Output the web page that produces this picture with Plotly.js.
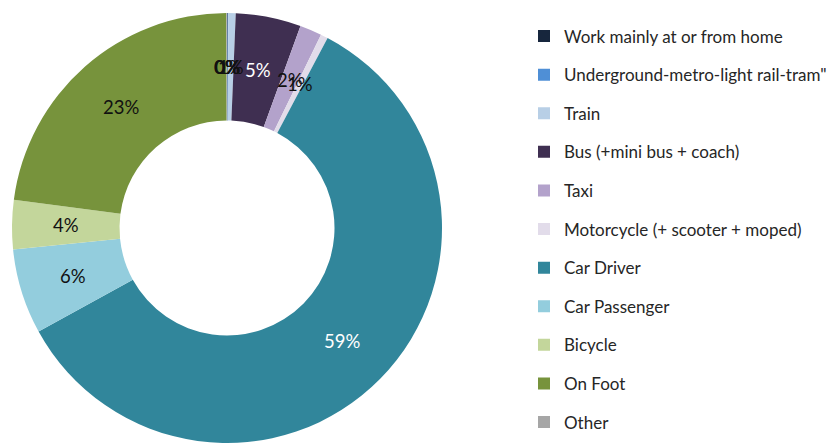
<!DOCTYPE html>
<html>
<head>
<meta charset="utf-8">
<script src="https://cdn.plot.ly/plotly-3.0.1.min.js"></script>
<style>html,body{margin:0;padding:0;background:#fff;}#chart{width:838px;height:443px;}</style>
</head>
<body>
<div id="chart"></div>
<script>
const categories = [
  "Work mainly at or from home",
  "Underground-metro-light rail-tram\"",
  "Train",
  "Bus (+mini bus + coach)",
  "Taxi",
  "Motorcycle (+ scooter + moped)",
  "Car Driver",
  "Car Passenger",
  "Bicycle",
  "On Foot",
  "Other"
];
const shares = [0.05, 0.05, 0.55, 4.9, 1.65, 0.55, 59.25, 6.4, 3.7, 22.85, 0.05];
const sliceColors = ["#17263d", "#4f8fd6", "#b8cfe6", "#3f2f51", "#b3a2cb", "#e2dcea",
                     "#31869b", "#93cddd", "#c3d69b", "#77933c", "#a6a6a6"];
const labelColors = ["#111", "#111", "#111", "#fff", "#111", "#111",
                     "#fff", "#111", "#111", "#111", "#111"];

const FONT = "Lato, 'Open Sans', sans-serif";
const W = 838, H = 443;
const PIE = {cx: 227, cy: 228, r: 215, hole: 0.5};

const pieTrace = {
  type: "pie",
  labels: categories,
  values: shares,
  sort: false,
  direction: "clockwise",
  rotation: 0,
  hole: PIE.hole,
  marker: {colors: sliceColors, line: {width: 0}},
  textinfo: "none",
  hoverinfo: "label+percent",
  showlegend: false,
  domain: {
    x: [(PIE.cx - PIE.r) / W, (PIE.cx + PIE.r) / W],
    y: [1 - (PIE.cy + PIE.r) / H, 1 - (PIE.cy - PIE.r) / H]
  }
};

// legend entries (one per category, same colours as the slices)
const legendTraces = categories.map((c, i) => ({
  type: "scatter", mode: "markers",
  x: [null], y: [null],
  name: c, legendgroup: "g" + i,
  marker: {symbol: "square", size: 12, color: sliceColors[i]},
  hoverinfo: "skip"
}));

// percentage labels placed at the middle of the ring, at each slice's mid-angle
const total = shares.reduce((a, b) => a + b, 0);
let cum = 0;
const rMid = PIE.r * (1 + PIE.hole) / 2;
const annotations = shares.map((v, i) => {
  const mid = (cum + v / 2) / total;
  cum += v;
  const ang = 2 * Math.PI * mid;
  const px = PIE.cx + rMid * Math.sin(ang);
  const py = PIE.cy - rMid * Math.cos(ang);
  return {
    xref: "paper", yref: "paper",
    x: px / W, y: 1 - py / H,
    xanchor: "center", yanchor: "middle",
    text: Math.round(v / total * 100) + "%",
    showarrow: false,
    font: {family: FONT, size: 18.5, color: labelColors[i]}
  };
});

const layout = {
  width: W, height: H,
  margin: {l: 0, r: 0, t: 0, b: 0},
  paper_bgcolor: "#fff",
  plot_bgcolor: "rgba(0,0,0,0)",
  font: {family: FONT, color: "#262626"},
  xaxis: {visible: false},
  yaxis: {visible: false},
  showlegend: true,
  legend: {
    x: 524 / W, xanchor: "left",
    y: 1 - 18.5 / H, yanchor: "top",
    font: {family: FONT, size: 17, color: "#262626"},
    bgcolor: "rgba(0,0,0,0)",
    borderwidth: 0,
    traceorder: "grouped",
    tracegroupgap: 13.5
  },
  annotations: annotations
};

Plotly.newPlot("chart", [pieTrace].concat(legendTraces), layout, {displayModeBar: false, staticPlot: true});
</script>
</body>
</html>
